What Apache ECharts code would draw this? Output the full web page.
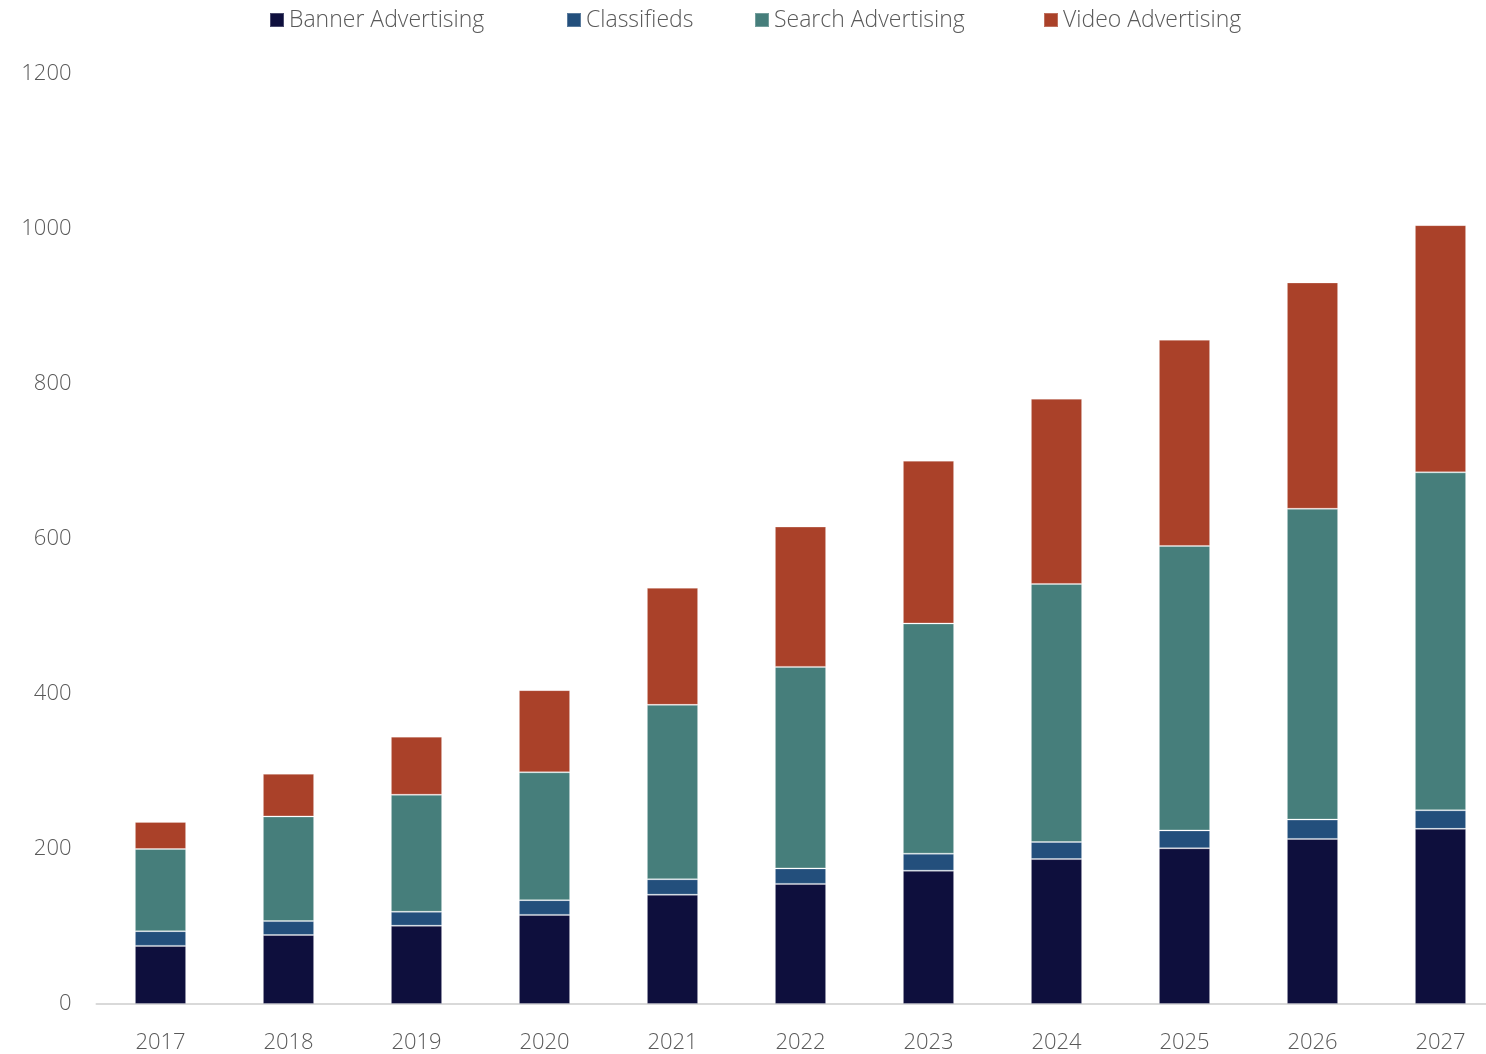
<!DOCTYPE html>
<html>
<head>
<meta charset="utf-8">
<title>Digital advertising revenue by segment, 2017–2027</title>
<script src="https://cdn.jsdelivr.net/npm/echarts@6/dist/echarts.min.js"></script>
<style>
  html, body { margin: 0; padding: 0; background: #ffffff; overflow: hidden; }
  /* the plot runs slightly past the right edge of the page */
  #chart { width: 1523px; height: 1054px; }
</style>
</head>
<body>
<div id="chart"></div>
<script>
// Years on the category axis
const years = ['2017', '2018', '2019', '2020', '2021', '2022', '2023', '2024', '2025', '2026', '2027'];

// Segment values per year (stacked)
const bannerAdvertising = [75, 89, 101, 115, 141, 155, 172, 187, 201, 213, 226];
const classifieds       = [19, 18, 18, 19, 20, 20, 22, 22, 23, 25, 24];
const searchAdvertising = [106, 135, 151, 165, 225, 260, 297, 333, 367, 401, 436];
const videoAdvertising  = [35, 55, 75, 106, 151, 181, 210, 239, 266, 292, 319];

// Value axis ticks
const yTicks = [0, 200, 400, 600, 800, 1000, 1200];

const seriesNames  = ['Banner Advertising', 'Classifieds', 'Search Advertising', 'Video Advertising'];
const seriesData   = [bannerAdvertising, classifieds, searchAdvertising, videoAdvertising];
const seriesColors = ['#0e0f3d', '#234f7c', '#467e7b', '#aa4129'];
// left edge of each legend entry's swatch
const legendLeft   = [269, 566, 754, 1043];

const FONT = '"Open Sans", "Noto Sans", sans-serif';
const TEXT_COLOR = '#595959';

const chart = echarts.init(document.getElementById('chart'), null, { renderer: 'canvas' });

chart.setOption({
  animation: false,
  backgroundColor: '#ffffff',
  textStyle: { fontFamily: FONT, fontWeight: 300 },
  legend: seriesNames.map((name, i) => ({
    top: 5,
    left: legendLeft[i],
    padding: 0,
    itemWidth: 14,
    itemHeight: 14,
    itemGap: 0,
    icon: 'rect',
    selectedMode: false,
    textStyle: { fontFamily: FONT, fontWeight: 300, fontSize: 23, color: TEXT_COLOR, lineHeight: 30 },
    data: [name]
  })),
  grid: {
    left: 96.5,
    right: 18.5,
    top: 74,
    bottom: 49,
    containLabel: false
  },
  xAxis: {
    type: 'category',
    data: years,
    axisLine: { show: true, lineStyle: { color: '#d9d9d9', width: 2 } },
    axisTick: { show: false },
    axisLabel: { color: TEXT_COLOR, fontFamily: FONT, fontWeight: 300, fontSize: 22, margin: 28 }
  },
  yAxis: {
    type: 'value',
    min: yTicks[0],
    max: yTicks[yTicks.length - 1],
    interval: yTicks[1] - yTicks[0],
    axisLine: { show: false },
    axisTick: { show: false },
    splitLine: { show: false },
    axisLabel: {
      color: TEXT_COLOR, fontFamily: FONT, fontWeight: 300, fontSize: 22, margin: 25,
      padding: [8, 0, 0, 0],
      formatter: (v) => String(v)
    }
  },
  series: seriesNames.map((name, i) => ({
    name: name,
    type: 'bar',
    stack: 'total',
    barWidth: '40%',
    data: seriesData[i],
    itemStyle: {
      color: seriesColors[i],
      borderColor: 'rgba(255,255,255,0.25)',
      borderWidth: 1
    }
  }))
});
</script>
</body>
</html>
